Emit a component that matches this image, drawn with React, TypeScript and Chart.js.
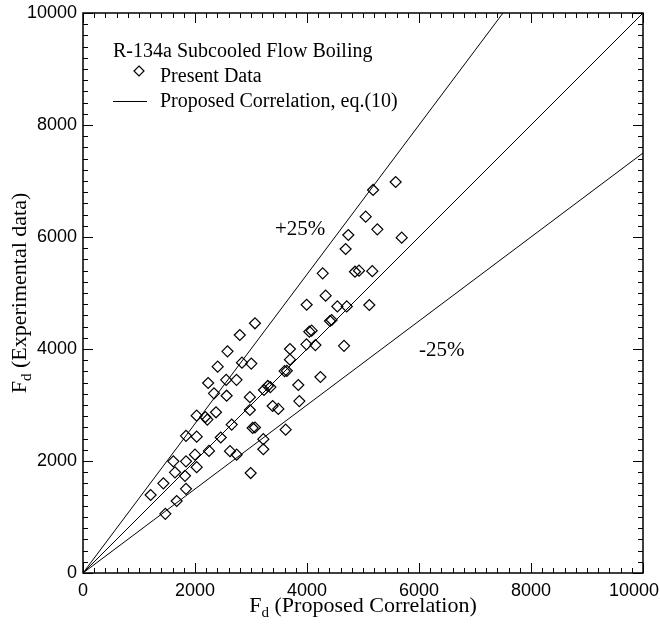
import React, { useEffect, useRef } from 'react';
import { Chart, registerables } from 'chart.js';

Chart.register(...registerables);

// Present data (F_d proposed correlation vs F_d experimental)
const presentX = [
  5583, 5180, 5048, 5256, 4738, 5691, 4690, 4280, 4857, 4929,
  5166, 4333, 3994, 4542, 4710, 5113, 4411, 4440, 4042, 4083,
  3990, 4150, 4661, 3696, 3696, 3600, 3640, 4240, 3845, 3863,
  3619, 3071, 2800, 2580, 2839, 3005, 2405, 2556, 2741, 2235,
  2339, 2565, 3300, 3345, 3232, 2980, 2980, 3387, 3488, 3030,
  3071, 3220, 3220, 2994, 2375, 2030, 2185, 2220, 1839, 2030,
  2655, 2460, 2250, 2625, 2744, 2000, 1613, 1839, 2030, 1643,
  1821, 1435, 1839, 1208, 1673, 1470,
];
const presentY = [
  6982, 6840, 6363, 6137, 6036, 5988, 5786, 5351, 5380, 5399,
  5390, 4952, 4790, 4760, 4760, 4786, 4500, 4518, 4310, 4327,
  4083, 4070, 4057, 4000, 3810, 3605, 3610, 3500, 3357, 3070,
  2560, 4459, 4250, 3958, 3756, 3740, 3685, 3450, 3450, 3393,
  3208, 3166, 3340, 3320, 3268, 3140, 2911, 2982, 2930, 2590,
  2598, 2390, 2210, 1785, 2870, 2810, 2785, 2740, 2450, 2435,
  2650, 2420, 2180, 2175, 2113, 2113, 1994, 1994, 1890, 1798,
  1735, 1601, 1503, 1393, 1286, 1057,
];

// Correlation line and ±25% bands
const correlationX = [0, 10000];
const correlationY = [0, 10000];
const plus25X = [0, 7500];
const plus25Y = [0, 10000];
const minus25X = [0, 10000];
const minus25Y = [0, 7500];

// Axes
const axisMin = 0;
const axisMax = 10000;
const majorStep = 2000;
const minorStep = 200;
const xTickValues = [0, 2000, 4000, 6000, 8000, 10000];
const yTickValues = [0, 2000, 4000, 6000, 8000, 10000];

// Texts
const legendTitle = 'R-134a Subcooled Flow Boiling';
const legendData = 'Present Data';
const legendLine = 'Proposed Correlation, eq.(10)';
const plusLabel = '+25%';
const minusLabel = '-25%';
const xTitleRest = ' (Proposed Correlation)';
const yTitleRest = ' (Experimental data)';

const SERIF = '"Liberation Serif", "Times New Roman", serif';
const SANS = '"Liberation Sans", Arial, sans-serif';

const toPts = (xs: number[], ys: number[]) => xs.map((x, i) => ({ x, y: ys[i] }));

function drawSubTitle(ctx: CanvasRenderingContext2D, cx: number, cy: number, rest: string) {
  ctx.font = `22px ${SERIF}`;
  const wF = ctx.measureText('F').width;
  const wRest = ctx.measureText(rest).width;
  ctx.font = `15px ${SERIF}`;
  const wd = ctx.measureText('d').width;
  const total = wF + wd + wRest;
  let x = cx - total / 2;
  ctx.textAlign = 'left';
  ctx.textBaseline = 'alphabetic';
  ctx.font = `22px ${SERIF}`;
  ctx.fillText('F', x, cy);
  x += wF;
  ctx.font = `15px ${SERIF}`;
  ctx.fillText('d', x, cy + 5);
  x += wd;
  ctx.font = `22px ${SERIF}`;
  ctx.fillText(rest, x, cy);
}

const decorations = {
  id: 'decorations',
  afterDraw(chart: any) {
    const ctx: CanvasRenderingContext2D = chart.ctx;
    const { left, right, top, bottom } = chart.chartArea;
    const xs = chart.scales.x;
    const ys = chart.scales.y;
    ctx.save();
    ctx.strokeStyle = '#000';
    ctx.fillStyle = '#000';

    // ticks (inward, all four sides)
    ctx.lineWidth = 1;
    ctx.beginPath();
    for (let v = axisMin; v <= axisMax; v += minorStep) {
      const len = v % majorStep === 0 ? 10 : 5;
      const px = Math.round(xs.getPixelForValue(v)) + 0.5;
      ctx.moveTo(px, bottom);
      ctx.lineTo(px, bottom - len);
      ctx.moveTo(px, top);
      ctx.lineTo(px, top + len);
      const py = Math.round(ys.getPixelForValue(v)) + 0.5;
      ctx.moveTo(left, py);
      ctx.lineTo(left + len, py);
      ctx.moveTo(right, py);
      ctx.lineTo(right - len, py);
    }
    ctx.stroke();

    // frame
    ctx.lineWidth = 1.5;
    ctx.strokeRect(left, top, right - left, bottom - top);

    // tick labels
    ctx.font = `18px ${SANS}`;
    ctx.textBaseline = 'top';
    ctx.textAlign = 'center';
    for (const v of xTickValues) {
      const s = String(v);
      const w = ctx.measureText(s).width;
      let px = xs.getPixelForValue(v);
      px = Math.min(px, chart.width - w / 2 - 1);
      ctx.fillText(s, px, bottom + 9);
    }
    ctx.textAlign = 'right';
    ctx.textBaseline = 'middle';
    for (const v of yTickValues) {
      ctx.fillText(String(v), left - 6, ys.getPixelForValue(v));
    }

    // axis titles
    drawSubTitle(ctx, (left + right) / 2, bottom + 39, xTitleRest);
    ctx.save();
    ctx.translate(left - 57, (top + bottom) / 2);
    ctx.rotate(-Math.PI / 2);
    drawSubTitle(ctx, 0, 0, yTitleRest);
    ctx.restore();

    // legend box
    ctx.font = `20px ${SERIF}`;
    ctx.textAlign = 'left';
    ctx.textBaseline = 'alphabetic';
    ctx.fillText(legendTitle, left + 30, top + 44);
    ctx.fillText(legendData, left + 77, top + 69);
    ctx.fillText(legendLine, left + 77, top + 94);
    // diamond marker
    ctx.lineWidth = 1.2;
    const dx = left + 56;
    const dy = top + 58;
    const r = 5;
    ctx.beginPath();
    ctx.moveTo(dx, dy - r);
    ctx.lineTo(dx + r, dy);
    ctx.lineTo(dx, dy + r);
    ctx.lineTo(dx - r, dy);
    ctx.closePath();
    ctx.stroke();
    // line sample
    ctx.lineWidth = 1;
    ctx.beginPath();
    ctx.moveTo(left + 30, top + 88.5);
    ctx.lineTo(left + 64, top + 88.5);
    ctx.stroke();

    // band labels
    ctx.font = `21px ${SERIF}`;
    ctx.fillText(plusLabel, 275, 235);
    ctx.fillText(minusLabel, 419, 356);

    ctx.restore();
  },
};

export default function App() {
  const canvasRef = useRef<HTMLCanvasElement | null>(null);

  useEffect(() => {
    const canvas = canvasRef.current;
    if (!canvas) return;
    const lineStyle = {
      borderColor: '#000',
      borderWidth: 1,
      pointRadius: 0,
      showLine: true,
      fill: false,
      tension: 0,
    };
    const chart = new Chart(canvas, {
      type: 'scatter',
      data: {
        datasets: [
          {
            label: legendData,
            data: toPts(presentX, presentY),
            pointStyle: 'rectRot',
            pointRadius: 5.5,
            pointBorderWidth: 1.2,
            borderColor: '#000',
            backgroundColor: 'rgba(0,0,0,0)',
            showLine: false,
          },
          { label: legendLine, data: toPts(correlationX, correlationY), ...lineStyle },
          { label: plusLabel, data: toPts(plus25X, plus25Y), ...lineStyle },
          { label: minusLabel, data: toPts(minus25X, minus25Y), ...lineStyle },
        ] as any,
      },
      options: {
        responsive: false,
        animation: false,
        events: [],
        layout: { padding: { left: 83, right: 17, top: 13, bottom: 60 } },
        plugins: {
          legend: { display: false },
          tooltip: { enabled: false },
          title: { display: false },
        },
        scales: {
          x: {
            type: 'linear',
            display: false,
            min: axisMin,
            max: axisMax,
            ticks: { stepSize: majorStep },
          },
          y: {
            type: 'linear',
            display: false,
            min: axisMin,
            max: axisMax,
            ticks: { stepSize: majorStep },
          },
        },
      },
      plugins: [decorations],
    });
    return () => chart.destroy();
  }, []);

  return (
    <div style={{ position: 'absolute', left: 0, top: 0, width: 660, height: 633, background: '#fff' }}>
      <canvas ref={canvasRef} width={660} height={633} style={{ display: 'block' }} />
    </div>
  );
}
